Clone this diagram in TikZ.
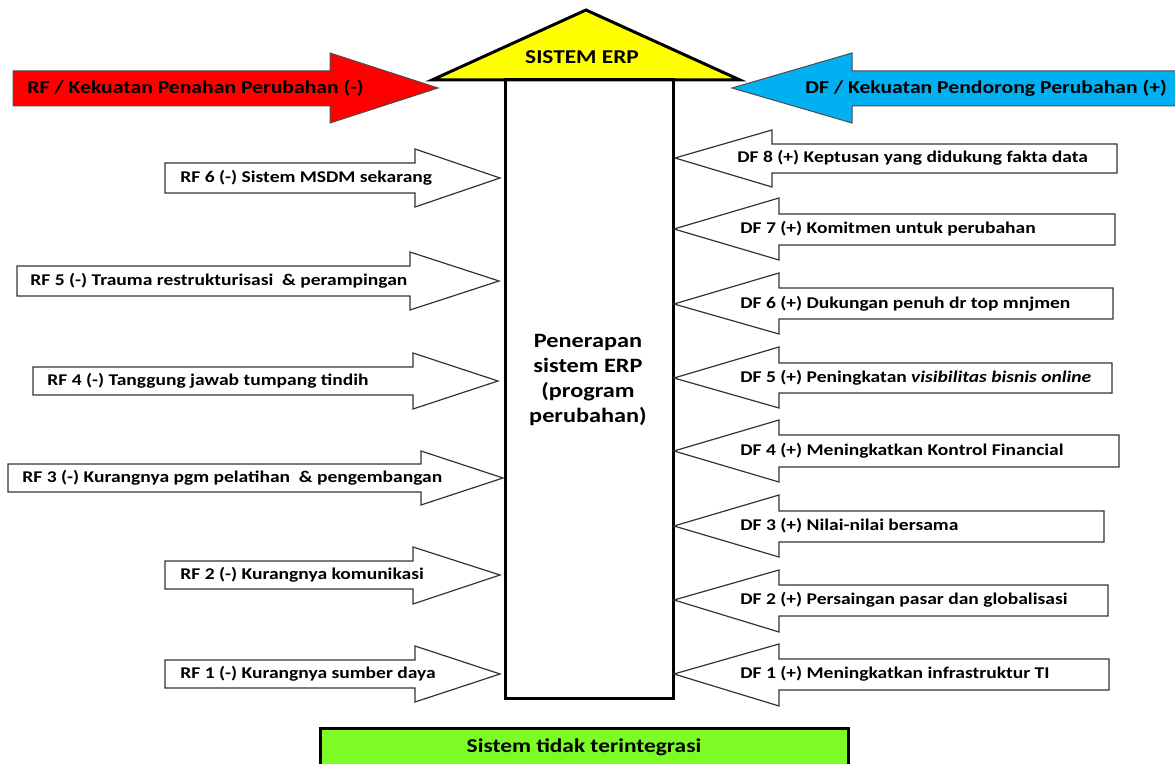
\documentclass[tikz,border=0pt]{standalone}
\usepackage{fontspec}
\setmainfont{Carlito}[FakeStretch=1.19]

\definecolor{rfred}{RGB}{255,0,0}
\definecolor{dfblue}{RGB}{0,176,240}
\definecolor{erpyellow}{RGB}{255,255,0}
\definecolor{lowgreen}{RGB}{124,252,36}

\begin{document}
\begin{tikzpicture}[x=0.5pt, y=-0.5pt,
		forcearrow/.style={draw=black!80, line width=0.6pt, fill=white},
		bigarrow/.style={draw=black!70, line width=0.5pt},
		lbl/.style={anchor=west, inner sep=0pt, font=\fontsize{8.2}{9}\selectfont\bfseries},
		biglbl/.style={inner sep=0pt, font=\fontsize{9.1}{11}\selectfont\bfseries}]
			\useasboundingbox (0,0) rectangle (1175,764); %same size as the reference
			
			\draw[bigarrow, fill=rfred] (13,71) -- (330,71) -- (330,53) -- (438,88) -- (330,123) -- (330,106) -- (13,106) -- cycle; %big red arrow
			\node[biglbl, anchor=west] (rftitle) at (27,88) {RF / Kekuatan Penahan Perubahan (-)};
			\draw[bigarrow, fill=dfblue] (1180,71) -- (852,71) -- (852,53) -- (732,88) -- (852,123) -- (852,106) -- (1180,106) -- cycle; %big blue arrow
			\node[biglbl, anchor=west] (dftitle) at (805,88) {DF / Kekuatan Pendorong Perubahan (+)};
			
			\draw[fill=erpyellow, line width=1.5pt] (432,80) -- (586,10) -- (740,80) -- cycle; %roof on top of the box
			\node[biglbl, font=\fontsize{9.8}{11}\selectfont\bfseries] (sistem) at (582,57) {SISTEM ERP};
			\draw[line width=1.5pt] (505,80) rectangle (673,699); %the tall box in the middle
			\node[biglbl, align=center, font=\fontsize{10.2}{12.4}\selectfont\bfseries] (erp) at (588,380) {Penerapan\\sistem ERP\\(program\\perubahan)};
			
			%restraining forces, pointing right
			\draw[forcearrow] (165,163) -- (415,163) -- (415,149) -- (500,178) -- (415,207) -- (415,193) -- (165,193) -- cycle;
			\node[lbl] (rf6) at (180,178) {RF 6 (-) Sistem MSDM sekarang};
			\draw[forcearrow] (17,266) -- (410,266) -- (410,252) -- (499,281) -- (410,310) -- (410,296) -- (17,296) -- cycle;
			\node[lbl] (rf5) at (30,281) {RF 5 (-) Trauma restrukturisasi\ \ \& perampingan};
			\draw[forcearrow] (33,367) -- (413,367) -- (413,353) -- (498,381) -- (413,409) -- (413,395) -- (33,395) -- cycle;
			\node[lbl] (rf4) at (47,381) {RF 4 (-) Tanggung jawab tumpang tindih};
			\draw[forcearrow] (8,464) -- (421,464) -- (421,451) -- (503,478) -- (421,505) -- (421,492) -- (8,492) -- cycle;
			\node[lbl] (rf3) at (22,478) {RF 3 (-) Kurangnya pgm pelatihan\ \ \& pengembangan};
			\draw[forcearrow] (165,561) -- (413,561) -- (413,547) -- (500,575) -- (413,604) -- (413,589) -- (165,589) -- cycle;
			\node[lbl] (rf2) at (180,575) {RF 2 (-) Kurangnya komunikasi};
			\draw[forcearrow] (165,660) -- (415,660) -- (415,646) -- (500,674) -- (415,702) -- (415,688) -- (165,688) -- cycle;
			\node[lbl] (rf1) at (180,674) {RF 1 (-) Kurangnya sumber daya};
			
			%driving forces, pointing left
			\draw[forcearrow] (1117,144) -- (772,144) -- (772,130) -- (675,158) -- (772,187) -- (772,173) -- (1117,173) -- cycle;
			\node[lbl] (df8) at (737,158) {DF 8 (+) Keptusan yang didukung fakta data};
			\draw[forcearrow] (1115,214) -- (779,214) -- (779,198) -- (674,229) -- (779,260) -- (779,245) -- (1115,245) -- cycle;
			\node[lbl] (df7) at (740,229) {DF 7 (+) Komitmen untuk perubahan};
			\draw[forcearrow] (1113,288) -- (779,288) -- (779,273) -- (674,304) -- (779,334) -- (779,319) -- (1113,319) -- cycle;
			\node[lbl] (df6) at (740,304) {DF 6 (+) Dukungan penuh dr top mnjmen};
			\draw[forcearrow] (1112,363) -- (779,363) -- (779,347) -- (674,378) -- (779,408) -- (779,393) -- (1112,393) -- cycle;
			\node[lbl] (df5) at (740,378) {DF 5 (+) Peningkatan \textit{visibilitas bisnis online}};
			\draw[forcearrow] (1119,435) -- (779,435) -- (779,420) -- (674,451) -- (779,482) -- (779,467) -- (1119,467) -- cycle;
			\node[lbl] (df4) at (740,451) {DF 4 (+) Meningkatkan Kontrol Financial};
			\draw[forcearrow] (1104,511) -- (779,511) -- (779,495) -- (674,526) -- (779,557) -- (779,542) -- (1104,542) -- cycle;
			\node[lbl] (df3) at (740,526) {DF 3 (+) Nilai-nilai bersama};
			\draw[forcearrow] (1108,585) -- (779,585) -- (779,570) -- (674,600) -- (779,632) -- (779,616) -- (1108,616) -- cycle;
			\node[lbl] (df2) at (740,600) {DF 2 (+) Persaingan pasar dan globalisasi};
			\draw[forcearrow] (1109,659) -- (779,659) -- (779,644) -- (674,674) -- (779,706) -- (779,690) -- (1109,690) -- cycle;
			\node[lbl] (df1) at (740,674) {DF 1 (+) Meningkatkan infrastruktur TI};
			
			\draw[fill=lowgreen, line width=1.5pt] (320,729) rectangle (848,780); %green box, cut off at the bottom
			\node[biglbl, font=\fontsize{9.8}{11}\selectfont\bfseries] (lama) at (584,747) {Sistem tidak terintegrasi};
		\end{tikzpicture}
\end{document}
